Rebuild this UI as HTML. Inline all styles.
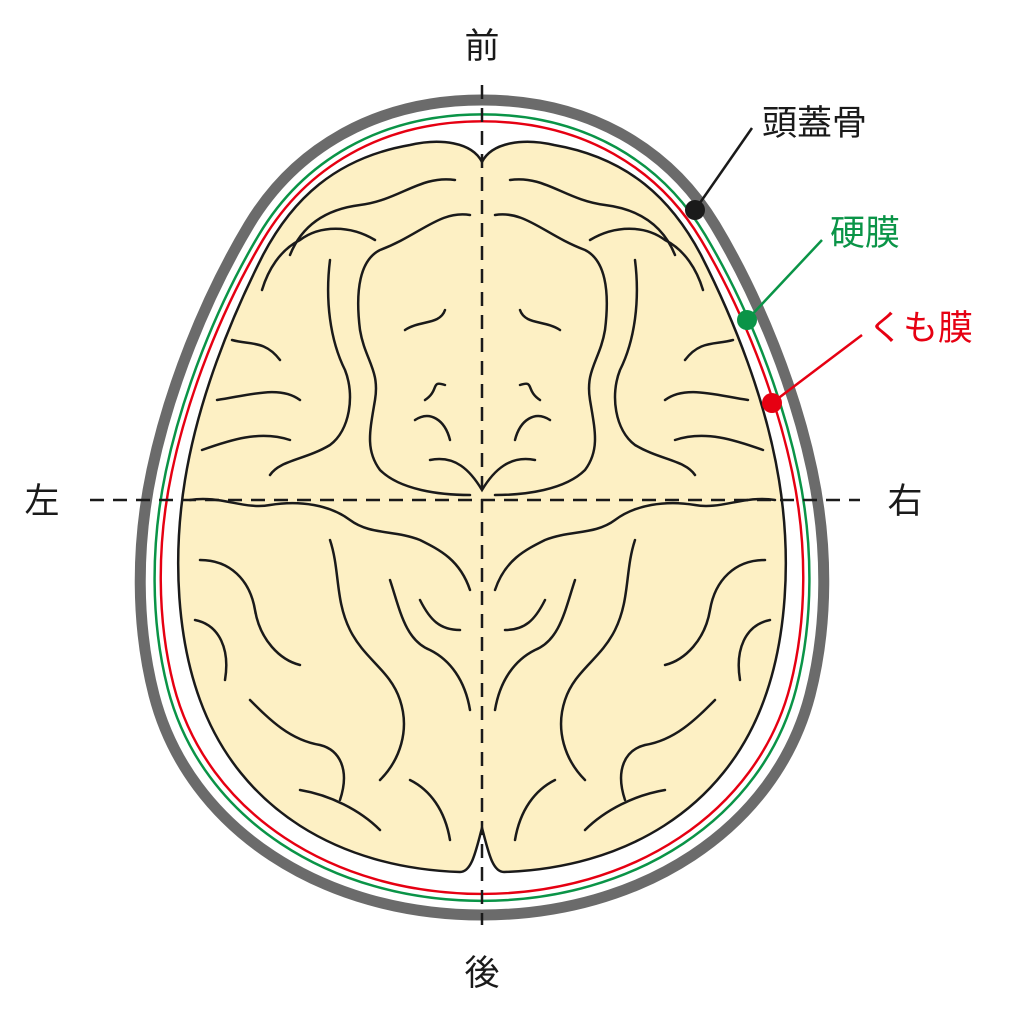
<!DOCTYPE html>
<html><head><meta charset="utf-8"><style>
html,body{margin:0;padding:0;background:#fff;}
svg{display:block;}
text{font-family:"Liberation Sans","Noto Sans CJK JP",sans-serif;}
</style></head><body>
<svg width="1024" height="1019" viewBox="0 0 1024 1019" xmlns="http://www.w3.org/2000/svg">
<defs>
<path id="head" d="M482,100 C590,100 670,150 715,225 C760,300 795,390 812,470 C828,545 828,625 810,695 C775,830 640,915 482,915 C324,915 189,830 154,695 C136,625 136,545 152,470 C169,390 204,300 249,225 C294,150 374,100 482,100 Z"/>
</defs>
<use href="#head" fill="none" stroke="#6b6b6b" stroke-width="11"/>
<g transform="translate(482,510) scale(0.958,0.965) translate(-482,-510)"><use href="#head" fill="none" stroke="#0a9447" stroke-width="2.6"/></g>
<g transform="translate(482,510) scale(0.94,0.948) translate(-482,-510)"><use href="#head" fill="none" stroke="#e60012" stroke-width="2.6"/></g>
<path d="M482,162 C472,142 440,138 410,145 C335,158 292,200 263,255 C230,320 198,400 185,480 C172,560 178,640 200,700 C240,810 340,868 460,872 C472,872 476,850 482,828 C488,850 492,872 504,872 C624,868 724,810 764,700 C786,640 792,560 779,480 C766,400 734,320 701,255 C672,200 629,158 554,145 C524,138 492,142 482,162 Z" fill="#fdf0c4" stroke="#1a1a1a" stroke-width="2.5"/>
<g fill="none" stroke="#1a1a1a" stroke-width="2.5" stroke-linecap="round">
<path d="M455,180 C420,175 400,200 360,205 C320,210 300,230 290,255"/>
<path d="M510,180 C545,175 565,200 605,205 C645,210 665,230 675,255"/>
<path d="M470,215 C440,210 420,235 380,250 C360,260 355,290 360,330 C365,360 380,370 375,400 C370,430 365,450 380,470 C400,490 440,495 470,495"/>
<path d="M495,215 C525,210 545,235 585,250 C605,260 610,290 605,330 C600,360 585,370 590,400 C595,430 600,450 585,470 C565,490 525,495 495,495"/>
<path d="M375,240 C350,225 320,225 300,240 C280,250 268,270 262,290"/>
<path d="M590,240 C615,225 645,225 665,240 C685,250 697,270 703,290"/>
<path d="M330,260 C325,300 330,340 345,370 C355,395 350,430 330,445 C305,460 280,460 270,475"/>
<path d="M635,260 C640,300 635,340 620,370 C610,395 615,430 635,445 C660,460 685,460 695,475"/>
<path d="M232,340 C250,345 265,340 280,360 M217,400 C250,395 280,385 300,400 M202,450 C230,440 260,430 290,440"/>
<path d="M733,340 C715,345 700,340 685,360 M748,400 C715,395 685,385 665,400 M763,450 C735,440 705,430 675,440"/>
<path d="M405,330 C420,320 440,325 445,310 M560,330 C545,320 525,325 520,310 M425,400 C440,390 430,380 445,385 M540,400 C525,390 535,380 520,385"/>
<path d="M415,420 C430,410 445,420 450,440 M550,420 C535,410 520,420 515,440"/>
<path d="M430,460 C455,455 470,470 482,490 C494,470 510,455 535,460"/>
<path d="M190,500 C220,495 245,510 270,505 C300,500 330,505 350,520 C370,535 395,530 420,540 C440,550 460,560 470,590"/>
<path d="M775,500 C745,495 720,510 695,505 C665,500 635,505 615,520 C595,535 570,530 545,540 C525,550 505,560 495,590"/>
<path d="M200,560 C230,560 250,580 255,610 C260,640 280,660 300,665 M195,620 C220,625 230,650 225,680"/>
<path d="M765,560 C735,560 715,580 710,610 C705,640 685,660 665,665 M770,620 C745,625 735,650 740,680"/>
<path d="M330,540 C340,570 335,600 350,630 C365,660 390,670 400,700 C410,730 400,760 380,780"/>
<path d="M635,540 C625,570 630,600 615,630 C600,660 575,670 565,700 C555,730 565,760 585,780"/>
<path d="M390,580 C400,610 405,640 430,650 C450,660 465,680 470,710 M575,580 C565,610 560,640 535,650 C515,660 500,680 495,710"/>
<path d="M250,700 C270,720 290,740 320,745 C340,750 350,770 340,800 M715,700 C695,720 675,740 645,745 C625,750 615,770 625,800"/>
<path d="M300,790 C330,795 360,810 380,830 M665,790 C635,795 605,810 585,830"/>
<path d="M410,780 C430,790 445,810 450,840 M555,780 C535,790 520,810 515,840"/>
<path d="M420,600 C430,620 440,630 460,630 M545,600 C535,620 525,630 505,630"/>
</g>
<g stroke="#1a1a1a" stroke-width="2.5" stroke-dasharray="14,9">
<line x1="482" y1="85" x2="482" y2="925"/>
<line x1="90" y1="500" x2="860" y2="500"/>
</g>
<g stroke-width="2.5">
<line x1="695" y1="210" x2="752" y2="128" stroke="#1a1a1a"/>
<line x1="747" y1="320" x2="822" y2="240" stroke="#0a9447"/>
<line x1="772" y1="403" x2="862" y2="335" stroke="#e60012"/>
</g>
<circle cx="695" cy="210" r="10" fill="#1a1a1a"/>
<circle cx="747" cy="320" r="10" fill="#0a9447"/>
<circle cx="772" cy="403" r="10" fill="#e60012"/>
<g font-size="35" fill="#1a1a1a" text-anchor="middle">
<text x="482" y="58">前</text>
<text x="482" y="985">後</text>
<text x="42" y="513">左</text>
<text x="905" y="513">右</text>
</g>
<text x="762" y="135" font-size="35" fill="#1a1a1a">頭蓋骨</text>
<text x="830" y="245" font-size="35" fill="#0a9447">硬膜</text>
<text x="868" y="340" font-size="35" fill="#e60012">くも膜</text>
</svg>
</body></html>
